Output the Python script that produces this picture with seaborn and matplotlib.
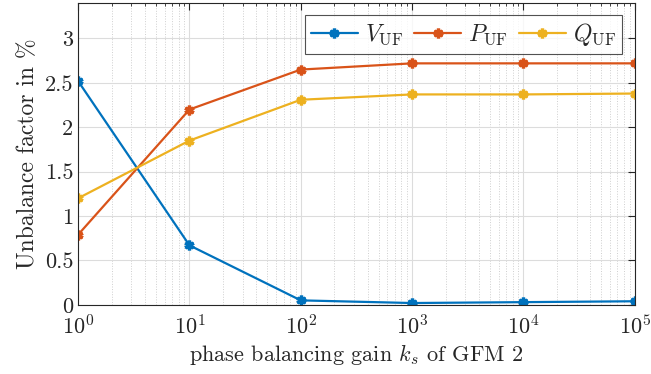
import numpy as np
import seaborn as sns
import matplotlib.pyplot as plt
from matplotlib.ticker import LogLocator, NullFormatter

# %% datos

ks = [1, 10, 100, 1000, 10000, 100000]
v_uf = [2.52, 0.67, 0.05, 0.02, 0.03, 0.04]
p_uf = [0.79, 2.20, 2.65, 2.72, 2.72, 2.72]
q_uf = [1.20, 1.85, 2.31, 2.37, 2.37, 2.38]

etiquetas = [r'$V_{\mathrm{UF}}$', r'$P_{\mathrm{UF}}$', r'$Q_{\mathrm{UF}}$']
colores = ['#0072BD', '#D95319', '#EDB120']

# %% estilo

sns.set_style('white')
plt.rcParams['font.family'] = ['cmr10', 'DejaVu Serif']
plt.rcParams['mathtext.fontset'] = 'cm'
plt.rcParams['axes.formatter.use_mathtext'] = True

fig, ax = plt.subplots(figsize=(6.51, 3.74), dpi=100)

for serie, lab, col in zip([v_uf, p_uf, q_uf], etiquetas, colores):
    sns.lineplot(x=ks, y=serie, color=col, label=lab, marker=(6, 2, 0),
                 markersize=7, markeredgewidth=2.4, markeredgecolor=col,
                 linewidth=1.6, ax=ax)

ax.set_xscale('log')
ax.set_xlim(1, 1e5)
ax.set_ylim(0, 3.4)
ax.set_yticks([0, 0.5, 1, 1.5, 2, 2.5, 3])
ax.set_yticklabels(['0', '0.5', '1', '1.5', '2', '2.5', '3'])
ax.xaxis.set_minor_locator(LogLocator(base=10, subs=np.arange(2, 10), numticks=20))
ax.xaxis.set_minor_formatter(NullFormatter())

ax.grid(True, which='major', color='#dcdcdc', linewidth=0.8)
ax.grid(True, which='minor', axis='x', color='#cfcfcf', linestyle=':', linewidth=0.7)
ax.set_axisbelow(True)

for s in ax.spines.values():
    s.set_color('#262626')
    s.set_linewidth(0.8)
ax.tick_params(which='both', direction='in', top=True, right=True,
               colors='#262626', labelsize=16)
ax.tick_params(which='major', length=5)
ax.tick_params(which='minor', length=2.5)
ax.tick_params(axis='x', pad=7)

ax.set_xlabel(r'phase balancing gain $k_s$ of GFM 2', fontsize=16, color='#262626',
              labelpad=2)
ax.set_ylabel('Unbalance factor in %', fontsize=17, color='#262626')

ley = ax.legend(loc='upper right', ncol=3, fontsize=17, frameon=True, fancybox=False,
                edgecolor='#262626', handlelength=2.0, columnspacing=0.45,
                handletextpad=0.3, borderpad=0.25, borderaxespad=0,
                bbox_to_anchor=(0.977, 0.96))
ley.get_frame().set_linewidth(0.8)

fig.subplots_adjust(left=0.12, right=0.975, bottom=0.185, top=0.992)
fig.savefig('out.png', dpi=100)
